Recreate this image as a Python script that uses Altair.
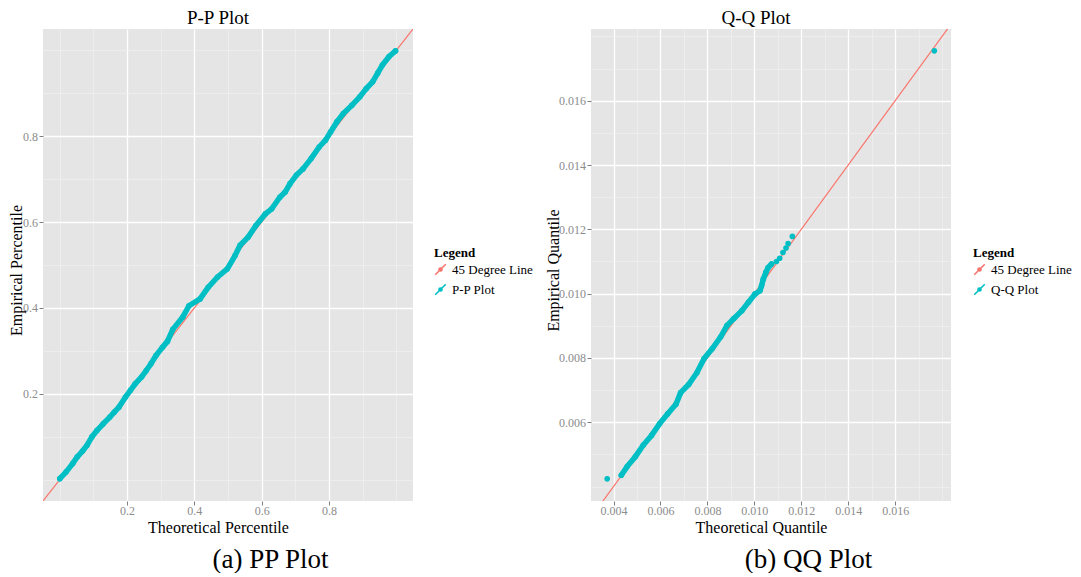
import json
import altair as alt
import pandas as pd

FONT = "Liberation Serif"
RED = "#F8766D"
TEAL = "#00BFC4"
PANEL_BG = "#E5E5E5"

# ---------------- data ----------------
pp_series = ["45 Degree Line", "P-P Plot"]
qq_series = ["45 Degree Line", "Q-Q Plot"]

pp_theoretical = [0.000, 0.019, 0.038, 0.052, 0.067, 0.081, 0.095, 0.110, 0.129, 0.148,
                  0.162, 0.176, 0.195, 0.210, 0.224, 0.243, 0.257, 0.271, 0.286, 0.305,
                  0.320, 0.336, 0.365, 0.384, 0.417, 0.441, 0.469, 0.498, 0.521, 0.536,
                  0.560, 0.583, 0.611, 0.630, 0.654, 0.670, 0.684, 0.703, 0.723, 0.747,
                  0.771, 0.790, 0.805, 0.824, 0.843, 0.868, 0.892, 0.911, 0.930, 0.945,
                  0.959, 0.979, 0.998]
pp_empirical = [0.002, 0.018, 0.037, 0.053, 0.066, 0.080, 0.099, 0.114, 0.130, 0.145,
                0.157, 0.169, 0.192, 0.208, 0.223, 0.239, 0.254, 0.270, 0.289, 0.308,
                0.322, 0.350, 0.378, 0.405, 0.421, 0.448, 0.472, 0.491, 0.522, 0.546,
                0.565, 0.592, 0.619, 0.631, 0.658, 0.670, 0.689, 0.709, 0.724, 0.748,
                0.775, 0.791, 0.810, 0.834, 0.853, 0.872, 0.892, 0.911, 0.927, 0.947,
                0.966, 0.986, 0.999]
pp_diag = [-0.05, 1.05]
pp_domain = [-0.05, 1.05]
pp_ticks = [0.0, 0.1, 0.2, 0.3, 0.4, 0.5, 0.6, 0.7, 0.8, 0.9, 1.0]
pp_major = [0.2, 0.4, 0.6, 0.8]

qq_band_theoretical = [0.00433, 0.00458, 0.00493, 0.00527, 0.00562, 0.00596, 0.00631,
                       0.00666, 0.00686, 0.00721, 0.00755, 0.00786, 0.00821, 0.00856,
                       0.00884, 0.00912, 0.00947, 0.00975, 0.01003, 0.01024, 0.01031,
                       0.01038, 0.01049, 0.01059, 0.01073]
qq_band_empirical = [0.00435, 0.00462, 0.00493, 0.00529, 0.00559, 0.00595, 0.00626,
                     0.00656, 0.00692, 0.00718, 0.00754, 0.00798, 0.00829, 0.00865,
                     0.00901, 0.00922, 0.00947, 0.00973, 0.00999, 0.01009, 0.01025,
                     0.01045, 0.01066, 0.01081, 0.01092]
qq_sparse_theoretical = [0.00373, 0.01094, 0.01108, 0.01122, 0.01135, 0.01144, 0.01162, 0.01767]
qq_sparse_empirical = [0.00424, 0.01100, 0.01110, 0.01128, 0.01142, 0.01156, 0.01178, 0.01755]
qq_diag = [0.0030, 0.0185]
qq_x_domain = [0.00304, 0.01838]
qq_y_domain = [0.00355, 0.01823]
qq_ticks = [0.004, 0.005, 0.006, 0.007, 0.008, 0.009, 0.010, 0.011, 0.012,
            0.013, 0.014, 0.015, 0.016, 0.017, 0.018]
qq_x_major = [0.004, 0.006, 0.008, 0.010, 0.012, 0.014, 0.016]
qq_y_major = [0.006, 0.008, 0.010, 0.012, 0.014, 0.016]

LEGEND_SYMBOL = ("M-1,1L1,-1M-0.3,0A0.3,0.3,0,1,1,0.3,0"
                 "A0.3,0.3,0,1,1,-0.3,0Z")


def make_axis(values, majors, fmt, title, label_pad, **kw):
    test = "indexof(%s, datum.value) >= 0" % json.dumps(majors)
    return alt.Axis(
        values=values, title=title,
        labelExpr="%s ? format(datum.value, '%s') : ''" % (test, fmt),
        grid=True,
        gridColor={"condition": {"test": test, "value": "#FFFFFF"}, "value": "#F2F2F2"},
        gridWidth={"condition": {"test": test, "value": 1.3}, "value": 0.6},
        tickOpacity={"condition": {"test": test, "value": 1}, "value": 0},
        tickColor="#7F7F7F", tickSize=4, tickWidth=1, domain=False,
        labelFont=FONT, labelFontSize=12, labelColor="#8C8C8C", labelPadding=label_pad,
        labelOverlap=False, labelFlush=False, labelBound=False,
        titleFont=FONT, titleFontSize=16, titleFontWeight="normal", titleColor="#000000",
        **kw)


def make_panel(series, pts_x, pts_y, band_x, band_y, diag, xdom, ydom,
               xticks, xmajor, yticks, ymajor, fmt, xtitle, ytitle,
               width, height, title, title_dx, ytitle_x, legend_x):
    cscale = alt.Scale(domain=series, range=[RED, TEAL])
    legend = alt.Legend(
        title="Legend", orient="none", legendX=legend_x, legendY=218,
        titleFont=FONT, titleFontSize=13, titleFontWeight="bold", titleColor="#000000",
        titlePadding=3, labelFont=FONT, labelFontSize=13, labelColor="#000000",
        labelOffset=5, symbolType=LEGEND_SYMBOL, symbolSize=110, symbolStrokeWidth=1.6,
        rowPadding=3, padding=0)
    xenc = alt.X("t:Q", scale=alt.Scale(domain=xdom, nice=False, zero=False),
                 axis=make_axis(xticks, xmajor, fmt, xtitle, 0.5, titleX=width / 2 - 10,
                                titleY=31, titleAlign="center", titleBaseline="alphabetic"))
    yenc = alt.Y("e:Q", scale=alt.Scale(domain=ydom, nice=False, zero=False),
                 axis=make_axis(yticks, ymajor, fmt, ytitle, 1.5, titleX=ytitle_x,
                                titleY=height / 2 + 5, titleAlign="center",
                                titleBaseline="middle"))
    col = alt.Color("s:N", scale=cscale, legend=legend)

    diag_df = pd.DataFrame({"t": diag, "e": diag, "s": [series[0]] * len(diag)})
    band_df = pd.DataFrame({"t": band_x, "e": band_y, "s": [series[1]] * len(band_x)})
    pts_df = pd.DataFrame({"t": pts_x, "e": pts_y, "s": [series[1]] * len(pts_x)})

    diag_layer = alt.Chart(diag_df).mark_line(clip=True, strokeWidth=1.2).encode(
        x=xenc, y=yenc, color=col)
    band_layer = alt.Chart(band_df).mark_line(
        strokeWidth=5.5, strokeCap="round", strokeJoin="round").encode(
        x=xenc, y=yenc, color=col)
    pts_layer = alt.Chart(pts_df).mark_circle(size=32, opacity=1).encode(
        x=xenc, y=yenc, color=col)

    return alt.layer(diag_layer, band_layer, pts_layer).properties(
        width=width, height=height,
        title=alt.TitleParams(title, font=FONT, fontSize=19, fontWeight="normal",
                              color="#000000", anchor="middle", dx=title_dx, offset=1))


pp = make_panel(pp_series, pp_theoretical, pp_empirical, pp_theoretical, pp_empirical,
                pp_diag, pp_domain, pp_domain, pp_ticks, pp_major, pp_ticks, pp_major,
                ".1f", "Theoretical Percentile", "Empirical Percentile",
                370, 472, "P-P Plot", -10, -27, 391)

qq = make_panel(qq_series,
                qq_band_theoretical + qq_sparse_theoretical,
                qq_band_empirical + qq_sparse_empirical,
                qq_band_theoretical, qq_band_empirical,
                qq_diag, qq_x_domain, qq_y_domain, qq_ticks, qq_x_major, qq_ticks, qq_y_major,
                ".3f", "Theoretical Quantile", "Empirical Quantile",
                360, 472, "Q-Q Plot", -15, -38, 382)

left = alt.vconcat(pp, title=alt.TitleParams(
    "(a) PP Plot", orient="bottom", anchor="middle", font=FONT, fontSize=27,
    fontWeight="normal", color="#000000", offset=12))
right = alt.vconcat(qq, title=alt.TitleParams(
    "(b) QQ Plot", orient="bottom", anchor="middle", font=FONT, fontSize=27,
    fontWeight="normal", color="#000000", offset=12))

chart = alt.hconcat(left, right, spacing=12).resolve_scale(
    color="independent").resolve_legend(color="independent").properties(
    padding={"left": 0, "top": 1, "right": 0, "bottom": 0}
).configure_view(fill=PANEL_BG, stroke=None)

chart.save("out.html", embed_options={"renderer": "svg", "actions": False})
